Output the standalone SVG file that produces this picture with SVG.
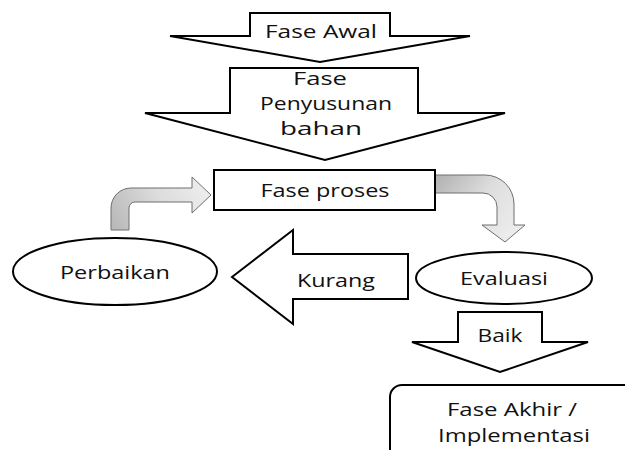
<svg xmlns="http://www.w3.org/2000/svg" width="625" height="450" viewBox="0 0 625 450">
<style>
.sh{fill:#fff;stroke:#000;stroke-width:2;stroke-linejoin:miter}
.cv{stroke:#6e6e6e;stroke-width:1;stroke-linejoin:round}
text{font-family:"Open Sans","Noto Sans","Liberation Sans",sans-serif;font-size:19px;fill:#111;text-anchor:middle}
</style>
<defs>
<linearGradient id="gL" gradientUnits="userSpaceOnUse" x1="115" y1="230" x2="211" y2="185">
<stop offset="0" stop-color="#b9b9b9"/><stop offset="0.5" stop-color="#dcdcdc"/><stop offset="1" stop-color="#efefef"/>
</linearGradient>
<linearGradient id="gR" gradientUnits="userSpaceOnUse" x1="435" y1="184" x2="505" y2="242">
<stop offset="0" stop-color="#b5b5b5"/><stop offset="0.5" stop-color="#dedede"/><stop offset="1" stop-color="#ececec"/>
</linearGradient>
</defs>
<g id="connectors">
<path id="arrow-perbaikan-proses" class="cv" fill="url(#gL)" d="M111,230 L111,208 A20,20 0 0 1 131,188 L192,188 L192,177 L211,195 L192,213 L192,202 L135,202 A6,6 0 0 0 129,208 L129,230 Z"/>
<path id="arrow-proses-evaluasi" class="cv" fill="url(#gR)" d="M435,175 L485,175 A29,29 0 0 1 514,204 L514,225 L525,225 L505,242 L482,225 L497,225 L497,207 A14,14 0 0 0 483,193 L435,193 Z"/>
</g>
<g id="fase-awal">
<polygon class="sh" points="250,13 390,13 390,36 470,36 320,62 170,36 250,36"/>
<text x="321" y="38" textLength="112" lengthAdjust="spacingAndGlyphs">Fase Awal</text>
</g>
<g id="fase-penyusunan">
<polygon class="sh" points="230,68 418,68 418,113 505,113 325,160 145,113 230,113"/>
<text x="320" y="85" textLength="54" lengthAdjust="spacingAndGlyphs">Fase</text>
<text x="326" y="110" textLength="132" lengthAdjust="spacingAndGlyphs">Penyusunan</text>
<text x="321" y="135" textLength="82" lengthAdjust="spacingAndGlyphs">bahan</text>
</g>
<g id="fase-proses">
<rect class="sh" x="214" y="170" width="221" height="40"/>
<text x="325" y="197" textLength="129" lengthAdjust="spacingAndGlyphs">Fase proses</text>
</g>
<g id="perbaikan">
<ellipse class="sh" cx="115" cy="271.5" rx="102" ry="33.5"/>
<text x="115" y="279" textLength="110" lengthAdjust="spacingAndGlyphs">Perbaikan</text>
</g>
<g id="kurang">
<polygon class="sh" points="232,277 293,230 293,254 408,254 408,299 293,299 293,324"/>
<text x="336" y="287" textLength="78" lengthAdjust="spacingAndGlyphs">Kurang</text>
</g>
<g id="evaluasi">
<ellipse class="sh" cx="504" cy="278" rx="88" ry="26"/>
<text x="504" y="285" textLength="88" lengthAdjust="spacingAndGlyphs">Evaluasi</text>
</g>
<g id="baik">
<polygon class="sh" points="458,312 542,312 542,342 588,342 500,372 412,342 458,342"/>
<text x="500" y="342" textLength="45" lengthAdjust="spacingAndGlyphs">Baik</text>
</g>
<g id="fase-akhir">
<rect class="sh" x="390" y="385" width="260" height="80" rx="12"/>
<text x="512" y="416" textLength="130" lengthAdjust="spacingAndGlyphs">Fase Akhir /</text>
<text x="514" y="442" textLength="152" lengthAdjust="spacingAndGlyphs">Implementasi</text>
</g>
</svg>
